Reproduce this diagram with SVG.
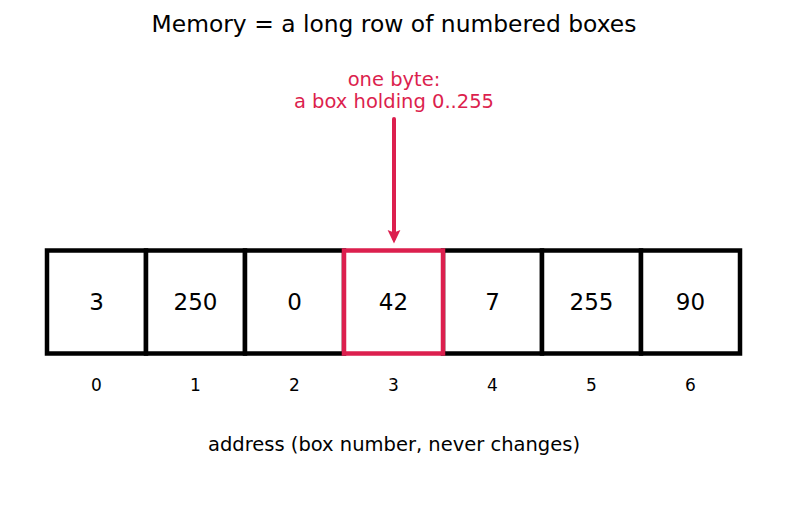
<svg xmlns="http://www.w3.org/2000/svg" width="787" height="510" viewBox="0 0 787 510">
<style>
text{font-family:"DejaVu Sans","Liberation Sans",sans-serif;text-anchor:middle}
.cell{fill:#fff;stroke:#000;stroke-width:4.5}
.sel{fill:none;stroke:#dc1f4e;stroke-width:4.5}
.val{font-size:23px;fill:#000}
.addr{font-size:17px;fill:#000}
.red{font-size:19.5px;fill:#dc1f4e}
</style>
<defs>
<marker id="ah" markerWidth="4" markerHeight="4" refX="2" refY="2" orient="auto" markerUnits="strokeWidth" viewBox="0 0 4 4">
<path d="M0,0.4 L3.4,2 L0,3.6 L0.6,2 Z" fill="#dc1f4e"/>
</marker>
</defs>
<rect width="787" height="510" fill="#fff"/>
<text x="394" y="32" style="font-size:23.4px">Memory = a long row of numbered boxes</text>
<g id="label"><text class="red" x="394" y="86">one byte:</text><text class="red" x="394" y="108">a box holding 0..255</text></g>
<g id="cell0"><rect class="cell" x="47" y="250.5" width="99" height="103"/><text class="val" x="96.5" y="310">3</text><text class="addr" x="96.5" y="391">0</text></g>
<g id="cell1"><rect class="cell" x="146" y="250.5" width="99" height="103"/><text class="val" x="195.5" y="310">250</text><text class="addr" x="195.5" y="391">1</text></g>
<g id="cell2"><rect class="cell" x="245" y="250.5" width="99" height="103"/><text class="val" x="294.5" y="310">0</text><text class="addr" x="294.5" y="391">2</text></g>
<g id="cell4"><rect class="cell" x="443" y="250.5" width="99" height="103"/><text class="val" x="492.5" y="310">7</text><text class="addr" x="492.5" y="391">4</text></g>
<g id="cell5"><rect class="cell" x="542" y="250.5" width="99" height="103"/><text class="val" x="591.5" y="310">255</text><text class="addr" x="591.5" y="391">5</text></g>
<g id="cell6"><rect class="cell" x="641" y="250.5" width="99" height="103"/><text class="val" x="690.5" y="310">90</text><text class="addr" x="690.5" y="391">6</text></g>
<g id="cell3"><rect class="cell" x="344" y="250.5" width="99" height="103" style="stroke:none"/><rect class="sel" x="344" y="250.5" width="99" height="103"/><text class="val" x="393.5" y="310">42</text><text class="addr" x="393.5" y="391">3</text></g>
<g id="connectors"><line x1="394" y1="119" x2="394" y2="238" stroke="#dc1f4e" stroke-width="4" stroke-linecap="round" marker-end="url(#ah)"/></g>
<text x="394" y="451" style="font-size:19.5px">address (box number, never changes)</text>
</svg>
